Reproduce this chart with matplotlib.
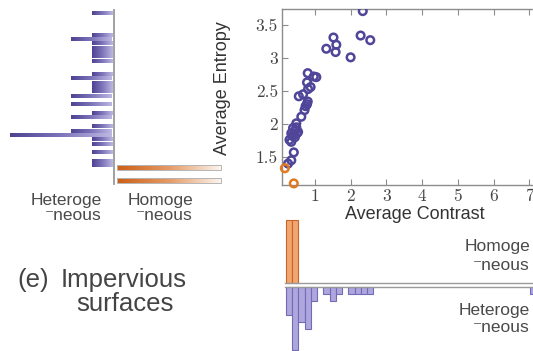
import numpy as np
import matplotlib
matplotlib.use("Agg")
import matplotlib.pyplot as plt
from matplotlib.colors import LinearSegmentedColormap
from matplotlib.patches import Rectangle
from matplotlib.ticker import FuncFormatter

# ---------------- data ----------------
# heterogeneous samples (contrast, entropy)
het_contrast = [2.34, 2.28, 2.55, 1.52, 1.60, 1.32, 1.58, 2.00,
                0.80, 0.97, 1.04, 0.78, 0.88, 0.81, 0.55, 0.67,
                0.80, 0.78, 0.74, 0.71, 0.62, 0.48, 0.39, 0.45,
                0.50, 0.42, 0.48, 0.53, 0.29, 0.34, 0.34, 0.41,
                0.34, 0.25, 0.37, 0.44, 7.25]
het_entropy = [3.71, 3.34, 3.27, 3.31, 3.20, 3.14, 3.09, 3.01,
               2.77, 2.72, 2.71, 2.63, 2.56, 2.53, 2.42, 2.45,
               2.34, 2.30, 2.27, 2.21, 2.11, 2.01, 1.94, 1.90,
               1.86, 1.84, 1.95, 1.88, 1.76, 1.86, 1.73, 1.57,
               1.45, 1.40, 1.82, 1.80, 2.97]
# homogeneous samples
hom_contrast = [0.16, 0.41]
hom_entropy = [1.33, 1.10]

# entropy histogram (top bin first)
ent_top_center = 3.682
ent_bin_width = 0.066
het_entropy_counts = [1, 0, 0, 0, 0, 1, 2, 1, 1, 1,
                      1, 1, 0, 0, 1, 2, 1, 1, 1, 2,
                      0, 2, 0, 1, 2, 0, 1, 2, 5, 1,
                      1, 0, 1, 0, 1, 1, 0, 0, 0, 0]
hom_entropy_centers = [1.341, 1.144]
hom_entropy_counts = [1, 1]

# contrast histogram (left bin first)
con_first_edge = 0.19
con_bin_width = 0.175
het_contrast_counts = [4, 9, 5, 6, 2, 0, 1, 2, 1, 0,
                       1, 1, 1, 1, 0, 0, 0, 0, 0, 0,
                       0, 0, 0, 0, 0, 0, 0, 0, 0, 0,
                       0, 0, 0, 0, 0, 0, 0, 0, 0, 1]
hom_contrast_counts = [1, 1]

x_ticks = [1, 2, 3, 4, 5, 6, 7]
y_ticks = [1.5, 2, 2.5, 3, 3.5]

# ---------------- style ----------------
W, H = 533, 351
PURPLE = "#4f4599"
ORANGE = "#e07a22"
GRAY = "#8c8c8c"
TXT = "#333333"
LBL = "#4a4a4a"
SANS = ["Liberation Sans", "DejaVu Sans"]

plt.rcParams["font.family"] = SANS

fig = plt.figure(figsize=(W / 100, H / 100), dpi=100)
fig.patch.set_facecolor("white")


def px_rect(x0, y0, x1, y1):
    """axes rectangle from pixel corners (top-left origin)"""
    return [x0 / W, 1 - y1 / H, (x1 - x0) / W, (y1 - y0) / H]


XLIM = (0.08, 8.0)
YLIM = (1.076, 3.742)

# ---------------- scatter ----------------
ax = fig.add_axes(px_rect(282, 9, 565, 185))
ax.scatter(het_contrast, het_entropy, s=30, facecolors="none",
           edgecolors=PURPLE, linewidths=1.8, zorder=3, clip_on=True)
ax.scatter(hom_contrast, hom_entropy, s=30, facecolors="none",
           edgecolors=ORANGE, linewidths=1.8, zorder=3, clip_on=False)
ax.set_xlim(*XLIM)
ax.set_ylim(*YLIM)
ax.set_xticks(x_ticks)
ax.set_yticks(y_ticks)
ax.yaxis.set_major_formatter(FuncFormatter(lambda v, p: f"{v:g}"))
ax.tick_params(direction="in", top=True, right=True, length=4,
               color=GRAY, labelcolor="#444444", labelsize=12.5, pad=3)
for lab in ax.get_xticklabels() + ax.get_yticklabels():
    lab.set_fontfamily("cmr10")
for sp in ax.spines.values():
    sp.set_color(GRAY)
    sp.set_linewidth(1.0)
ax.set_xlabel("Average Contrast", fontsize=13, color=TXT, labelpad=-1)
ax.xaxis.set_label_coords((415 - 282) / (565 - 282), -0.12)
ax.set_ylabel("Average Entropy", fontsize=13, color=TXT)
ax.yaxis.set_label_coords((231 - 282) / (565 - 282), 0.55)

# ---------------- left entropy histogram ----------------
axl = fig.add_axes(px_rect(0, 9, 230, 185))
unit = 104.0
axl.axis("off")

cm_purple = LinearSegmentedColormap.from_list("p", ["#4d4393", "#7d75ba", "#bdb8e2"])
cm_orange = LinearSegmentedColormap.from_list("o", ["#cc5f14", "#e59a66", "#fdf5ee"])
grad = np.linspace(0, 1, 256).reshape(1, -1)

het_max = max(het_entropy_counts)
bar_h = ent_bin_width * 0.88
for k, c in enumerate(het_entropy_counts):
    if c == 0:
        continue
    yc = ent_top_center - k * ent_bin_width
    x1 = -0.02
    x0 = x1 - 0.98 * c / het_max
    axl.imshow(grad, extent=(x0, x1, yc - bar_h / 2, yc + bar_h / 2),
               cmap=cm_purple, aspect="auto", interpolation="bilinear", zorder=2)

hom_max = max(hom_entropy_counts)
for yc, c in zip(hom_entropy_centers, hom_entropy_counts):
    x0 = 0.03
    x1 = x0 + 1.0 * c / hom_max
    h = ent_bin_width * 0.95
    axl.imshow(grad, extent=(x0, x1, yc - h / 2, yc + h / 2),
               cmap=cm_orange, aspect="auto", interpolation="bilinear", zorder=2)
    axl.add_patch(Rectangle((x0, yc - h / 2), x1 - x0, h, fill=False,
                            edgecolor="#b5b5b5", linewidth=0.7, zorder=3))
axl.plot([0, 0], [YLIM[0] + 0.01, YLIM[1]], color="#9a9a9a", lw=1.3, zorder=4)
axl.set_xlim(-114 / unit, 116 / unit)
axl.set_ylim(*YLIM)

# ---------------- bottom contrast histogram ----------------
axb = fig.add_axes(px_rect(282, 215, 565, 351))
axb.set_xlim(*XLIM)
axb.set_ylim(-(351 - 285) / 63, (285 - 215) / 63)
axb.axis("off")
g = 2 / 63
edges = con_first_edge + con_bin_width * np.arange(len(het_contrast_counts))
centers = edges + con_bin_width / 2
hc = np.array(het_contrast_counts, dtype=float)
mask = hc > 0
axb.bar(centers[mask], -hc[mask] / hc.max(), width=con_bin_width, bottom=-g,
        color="#aea7de", edgecolor="#736bb6", linewidth=0.8, zorder=2,
        clip_on=False)
oc = np.array(hom_contrast_counts, dtype=float)
axb.bar(centers[:len(oc)], oc / oc.max(), width=con_bin_width, bottom=g,
        color="#f2a66f", edgecolor="#c5672a", linewidth=0.8, zorder=2)
axb.axhline(g, xmin=0.01, color="#9a9a9a", lw=1.0, zorder=3)
axb.axhline(-g, xmin=0.01, color="#9a9a9a", lw=1.0, zorder=3)

# ---------------- annotations ----------------
def ftext(x, y, s, **kw):
    fig.text(x / W, 1 - y / H, s, **kw)

kw = dict(fontsize=12.5, color=LBL, va="center")
ftext(102, 200, "Heteroge", ha="right", **kw)
ftext(102, 216, "\u207bneous", ha="right", **kw)
ftext(193, 200, "Homoge", ha="right", **kw)
ftext(193, 216, "\u207bneous", ha="right", **kw)

ftext(530, 247, "Homoge", ha="right", **kw)
ftext(530, 265, "\u207bneous", ha="right", **kw)
ftext(530, 310, "Heteroge", ha="right", **kw)
ftext(530, 327, "\u207bneous", ha="right", **kw)

big = dict(fontsize=18.5, color="#444444", va="center")
ftext(17, 280, "(e)", ha="left", **big)
ftext(124, 280, "Impervious", ha="center", **big)
ftext(125, 304, "surfaces", ha="center", **big)

fig.savefig("out.png", dpi=100, facecolor="white")
